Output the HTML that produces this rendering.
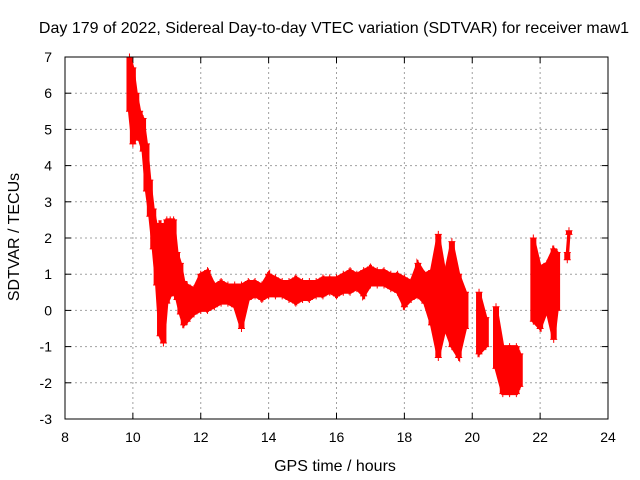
<!DOCTYPE html>
<html><head><meta charset="utf-8"><style>
body{margin:0;background:#fff;}
svg{display:block;font-family:"Liberation Sans",sans-serif;}
</style></head><body>
<svg id="chart" width="640" height="480" viewBox="0 0 640 480">
<rect width="640" height="480" fill="#fff"/>
<text x="334" y="33" font-size="16" text-anchor="middle">Day 179 of 2022, Sidereal Day-to-day VTEC variation (SDTVAR) for receiver maw1</text>
<text x="335" y="471" font-size="16" text-anchor="middle">GPS time / hours</text>
<text x="0" y="0" font-size="16" text-anchor="middle" transform="translate(19,237) rotate(-90)">SDTVAR / TECUs</text>
<g id="grid"></g><g id="ticks"></g><g id="marks"></g>
<rect x="65" y="57" width="543" height="362" fill="none" stroke="#000" stroke-width="1"/>
</svg>
<script>
const xTicks=[8,10,12,14,16,18,20,22,24];
const yTicks=[-3,-2,-1,0,1,2,3,4,5,6,7];
const times=[9.9,10.0,10.1,10.2,10.3,10.4,10.5,10.6,10.7,10.8,10.9,11.0,11.1,11.2,11.3,11.4,11.5,11.6,11.8,12.0,12.2,12.4,12.6,12.8,13.0,13.2,13.4,13.6,13.8,14.0,14.2,14.4,14.6,14.8,15.0,15.2,15.4,15.6,15.8,16.0,16.2,16.4,16.6,16.8,17.0,17.2,17.4,17.6,17.8,18.0,18.2,18.4,18.6,18.8,19.0,19.2,19.4,19.6,19.8,20.2,20.4,20.7,20.9,21.1,21.3,21.4,21.8,22.0,22.2,22.4,22.5,22.8,22.85];
const lows=[5.5,4.6,4.8,4.7,4.4,3.3,2.6,1.7,0.7,-0.7,-0.9,0.2,0.4,0.5,0.3,-0.1,-0.4,-0.3,-0.1,0.0,0.0,0.1,0.2,0.2,0.1,-0.5,0.3,0.4,0.3,0.4,0.4,0.4,0.3,0.2,0.3,0.3,0.4,0.4,0.5,0.4,0.5,0.5,0.6,0.4,0.7,0.7,0.7,0.6,0.5,0.1,0.3,0.4,0.2,-0.4,-1.3,-0.5,-1.0,-1.3,-0.5,-1.2,-1.0,-1.6,-2.3,-2.3,-2.3,-2.1,-0.3,-0.5,0.0,-0.8,0.0,1.4,2.1];
const highs=[7.0,6.7,6.0,5.5,5.3,4.6,3.6,2.8,2.3,2.4,2.3,2.5,2.5,2.5,1.6,1.3,0.8,0.7,0.6,1.0,1.1,0.7,0.8,0.7,0.7,0.7,0.8,0.8,0.7,1.0,0.9,0.8,0.8,0.9,0.8,0.8,0.8,0.9,0.9,0.9,1.0,1.1,1.0,1.1,1.2,1.1,1.1,1.0,1.0,0.9,0.8,1.3,1.0,1.1,2.1,1.0,1.9,1.0,0.5,0.5,-0.2,0.1,-1.0,-1.0,-1.0,-1.2,2.0,1.2,1.3,1.7,1.6,1.6,2.2];
const X0=65,X1=608,Y0=419,Y1=57;
function sx(h){return X0+(h-8)/16*(X1-X0);}
function sy(v){return Y0-(v+3)/10*(Y0-Y1);}
const NS="http://www.w3.org/2000/svg";
function mk(t,a,p){const e=document.createElementNS(NS,t);for(const k in a)e.setAttribute(k,a[k]);p.appendChild(e);return e;}
const grid=document.getElementById('grid'),ticks=document.getElementById('ticks'),marks=document.getElementById('marks');
xTicks.forEach(t=>{const x=sx(t);
 if(t>8&&t<24){const g=mk('line',{x1:x,x2:x,y1:Y1,y2:Y0,stroke:'#a0a0a0','stroke-dasharray':'2,3'},grid);
 
 }
 mk('line',{x1:x,x2:x,y1:Y0,y2:Y0-6,stroke:'#000'},ticks);mk('line',{x1:x,x2:x,y1:Y1,y2:Y1+6,stroke:'#000'},ticks);
 const l=mk('text',{x:x,y:Y0+23,'font-size':14,'text-anchor':'middle'},ticks);l.textContent=t;
 
 });
yTicks.forEach(t=>{const y=sy(t);
 if(t>-3&&t<7){const g=mk('line',{x1:X0,x2:X1,y1:y,y2:y,stroke:'#a0a0a0','stroke-dasharray':'2,3'},grid);
 
 }
 mk('line',{x1:X0,x2:X0+6,y1:y,y2:y,stroke:'#000'},ticks);mk('line',{x1:X1,x2:X1-6,y1:y,y2:y,stroke:'#000'},ticks);
 const l=mk('text',{x:X0-13,y:y+5,'font-size':14,'text-anchor':'end'},ticks);l.textContent=t;
 
 });
for(let i=0;i<times.length-1;i++){
 if(times[i+1]-times[i]>0.25)continue;
 const p=[[sx(times[i]),sy(highs[i])],[sx(times[i+1]),sy(highs[i+1])],[sx(times[i+1]),sy(lows[i+1])],[sx(times[i]),sy(lows[i])]];
 const b=mk('polygon',{points:p.map(q=>q.join(',')).join(' '),fill:'#ff0000',stroke:'#ff0000','stroke-width':3},marks);
 
 
}
times.forEach((t,i)=>{const x=sx(t);
 const bar=mk('line',{x1:x,x2:x,y1:sy(lows[i]),y2:sy(highs[i]),stroke:'#ff0000','stroke-width':6},marks);
 
 
 [lows[i],highs[i]].forEach(v=>{const y=sy(v);
  const c=mk('path',{d:`M${x-3.5},${y}h7M${x},${y-3.5}v7`,stroke:'#ff0000','stroke-width':1},marks);
  
  });
});
</script>
</body></html>
